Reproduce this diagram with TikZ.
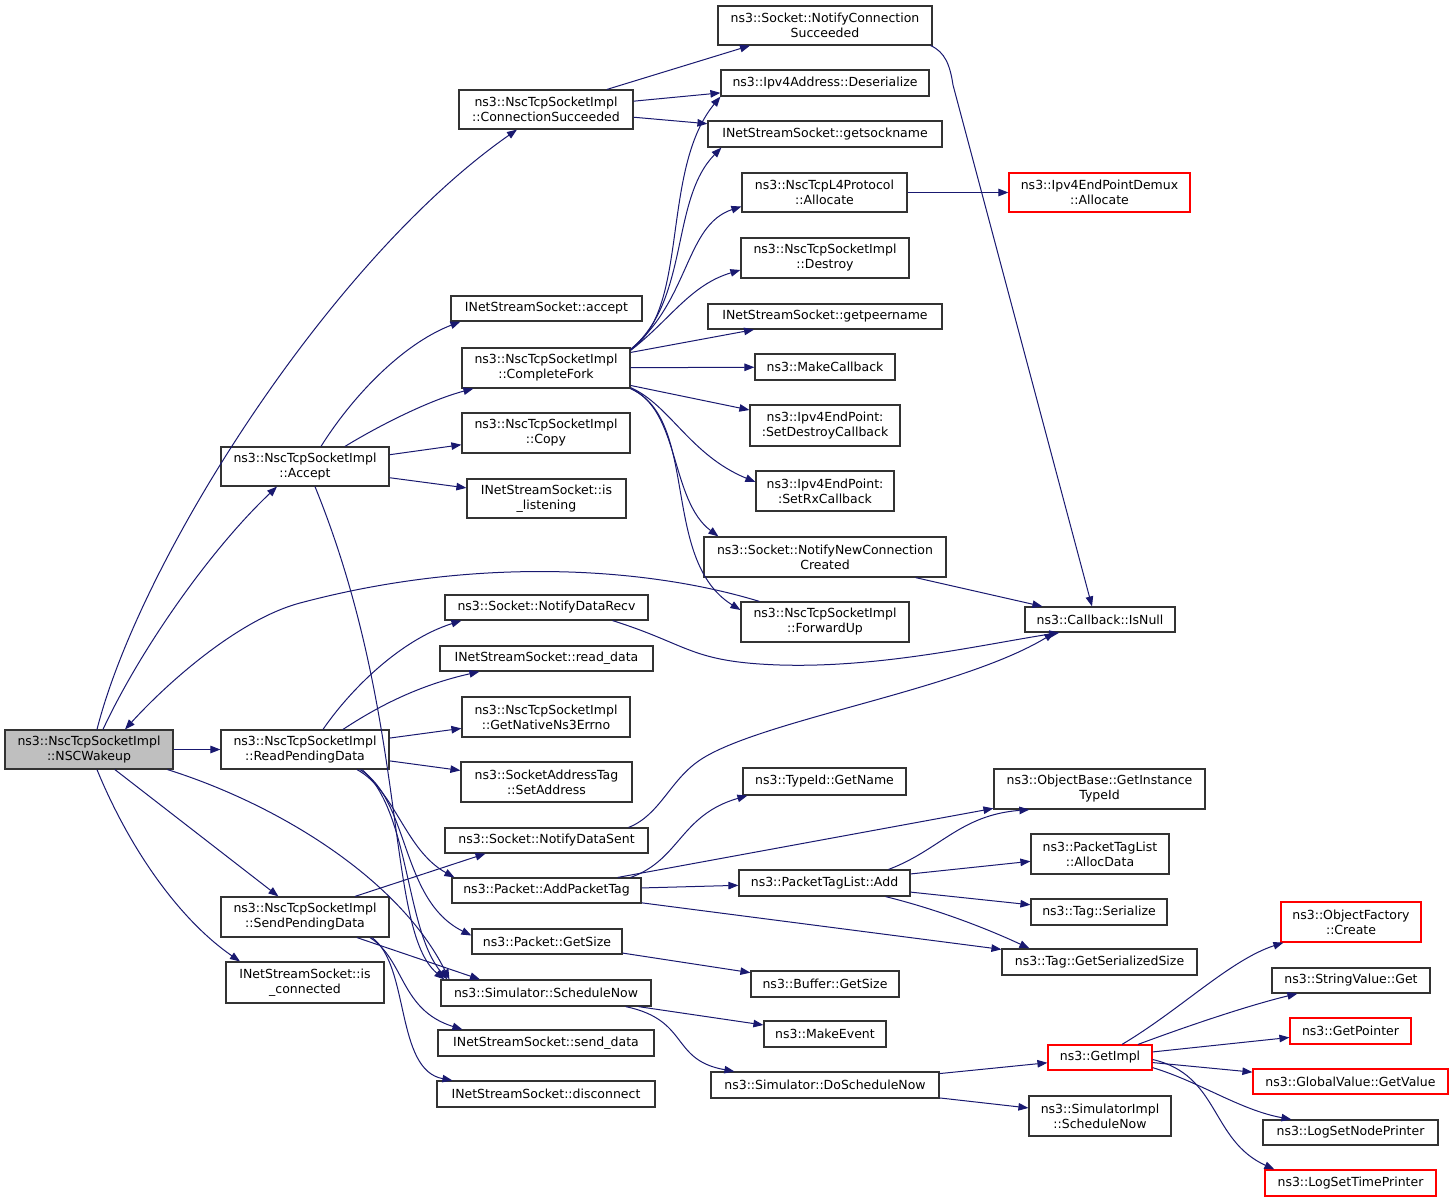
\documentclass[tikz,border=0pt]{standalone}
\usepackage{fontspec}
\setmainfont{DejaVu Sans}
\usetikzlibrary{arrows.meta,calc}
\definecolor{edgeblue}{HTML}{191970}
\definecolor{rootgray}{HTML}{BFBFBF}
\definecolor{framegray}{HTML}{333333}
\begin{document}
\begin{tikzpicture}[x=1pt,y=-1pt,
  nd/.style={draw=framegray,line width=1.2pt,fill=white,rectangle,inner sep=0pt,align=center,
    font=\fontsize{12.5}{15}\selectfont},
  rootnd/.style={nd,fill=rootgray},
  rednd/.style={nd,draw=red},
  edg/.style={draw=edgeblue,line width=1pt,-{Triangle[length=10pt,width=7.5pt]}}]
\fill[white] (0,0) rectangle (1453,1203);
\useasboundingbox (0,0) rectangle (1453,1203);
% column 0
\node[rootnd,minimum width=168pt,minimum height=39pt] (wake) at (89,749.5) {ns3::NscTcpSocketImpl\\::NSCWakeup};
% column 1
\node[nd,minimum width=174pt,minimum height=39pt] (cs) at (546,109.5) {ns3::NscTcpSocketImpl\\::ConnectionSucceeded};
\node[nd,minimum width=168pt,minimum height=39pt] (acc) at (305,466.5) {ns3::NscTcpSocketImpl\\::Accept};
\node[nd,minimum width=168pt,minimum height=39pt] (rpd) at (305,749.5) {ns3::NscTcpSocketImpl\\::ReadPendingData};
\node[nd,minimum width=168pt,minimum height=40pt] (spd) at (305,917) {ns3::NscTcpSocketImpl\\::SendPendingData};
\node[nd,minimum width=158pt,minimum height=41pt] (isc) at (305,982.5) {INetStreamSocket::is\\\_connected};
% column 2
\node[nd,minimum width=191pt,minimum height=25pt] (iacc) at (546.5,308.5) {INetStreamSocket::accept};
\node[nd,minimum width=168pt,minimum height=40pt] (cf) at (546,368) {ns3::NscTcpSocketImpl\\::CompleteFork};
\node[nd,minimum width=168pt,minimum height=40pt] (copy) at (546,433) {ns3::NscTcpSocketImpl\\::Copy};
\node[nd,minimum width=159pt,minimum height=39pt] (isl) at (546.5,498.5) {INetStreamSocket::is\\\_listening};
\node[nd,minimum width=203pt,minimum height=25pt] (ndr) at (546.5,607.5) {ns3::Socket::NotifyDataRecv};
\node[nd,minimum width=213pt,minimum height=25pt] (rdd) at (546.5,658.5) {INetStreamSocket::read\_data};
\node[nd,minimum width=168pt,minimum height=40pt] (gne) at (546,717) {ns3::NscTcpSocketImpl\\::GetNativeNs3Errno};
\node[nd,minimum width=171pt,minimum height=40pt] (sadd) at (546.5,782) {ns3::SocketAddressTag\\::SetAddress};
\node[nd,minimum width=203pt,minimum height=25pt] (nds) at (546.5,840.5) {ns3::Socket::NotifyDataSent};
\node[nd,minimum width=189pt,minimum height=25pt] (apt) at (546.5,890.5) {ns3::Packet::AddPacketTag};
\node[nd,minimum width=150pt,minimum height=25pt] (pgs) at (547,941.5) {ns3::Packet::GetSize};
\node[nd,minimum width=210pt,minimum height=26pt] (sn) at (546,993) {ns3::Simulator::ScheduleNow};
\node[nd,minimum width=216pt,minimum height=26pt] (sdd) at (546,1043) {INetStreamSocket::send\_data};
\node[nd,minimum width=218pt,minimum height=26pt] (disc) at (546,1094) {INetStreamSocket::disconnect};
% column 3
\node[nd,minimum width=214pt,minimum height=39pt] (ncs) at (825,25.5) {ns3::Socket::NotifyConnection\\Succeeded};
\node[nd,minimum width=208pt,minimum height=26pt] (deser) at (825,83) {ns3::Ipv4Address::Deserialize};
\node[nd,minimum width=234pt,minimum height=26pt] (gsn) at (825,134) {INetStreamSocket::getsockname};
\node[nd,minimum width=165pt,minimum height=39pt] (l4a) at (824.5,192.5) {ns3::NscTcpL4Protocol\\::Allocate};
\node[nd,minimum width=168pt,minimum height=40pt] (destr) at (825,258) {ns3::NscTcpSocketImpl\\::Destroy};
\node[nd,minimum width=234pt,minimum height=25pt] (gpn) at (825,316.5) {INetStreamSocket::getpeername};
\node[nd,minimum width=140pt,minimum height=26pt] (mkcb) at (825,367) {ns3::MakeCallback};
\node[nd,minimum width=150pt,minimum height=41pt] (sdcb) at (825,425.5) {ns3::Ipv4EndPoint:\\:SetDestroyCallback};
\node[nd,minimum width=138pt,minimum height=40pt] (srcb) at (825,491) {ns3::Ipv4EndPoint:\\:SetRxCallback};
\node[nd,minimum width=242pt,minimum height=40pt] (nncc) at (825,557) {ns3::Socket::NotifyNewConnection\\Created};
\node[nd,minimum width=168pt,minimum height=40pt] (fwd) at (825,622) {ns3::NscTcpSocketImpl\\::ForwardUp};
\node[nd,minimum width=163pt,minimum height=27pt] (tgn) at (824.5,781.5) {ns3::TypeId::GetName};
\node[nd,minimum width=171pt,minimum height=26pt] (ptla) at (824.5,883) {ns3::PacketTagList::Add};
\node[nd,minimum width=148pt,minimum height=26pt] (bgs) at (825,984) {ns3::Buffer::GetSize};
\node[nd,minimum width=122pt,minimum height=26pt] (mke) at (825,1034) {ns3::MakeEvent};
\node[nd,minimum width=228pt,minimum height=26pt] (dsn) at (825,1085) {ns3::Simulator::DoScheduleNow};
% column 4
\node[rednd,minimum width=181pt,minimum height=39pt] (demux) at (1099.5,192.5) {ns3::Ipv4EndPointDemux\\::Allocate};
\node[nd,minimum width=150pt,minimum height=25pt] (isnull) at (1100,619.5) {ns3::Callback::IsNull};
\node[nd,minimum width=211pt,minimum height=40pt] (gitid) at (1099.5,789) {ns3::ObjectBase::GetInstance\\TypeId};
\node[nd,minimum width=138pt,minimum height=40pt] (alloc) at (1100,854) {ns3::PacketTagList\\::AllocData};
\node[nd,minimum width=136pt,minimum height=26pt] (tser) at (1099,912) {ns3::Tag::Serialize};
\node[nd,minimum width=195pt,minimum height=26pt] (tgss) at (1099.5,962) {ns3::Tag::GetSerializedSize};
\node[rednd,minimum width=104pt,minimum height=25pt] (gimpl) at (1100,1057.5) {ns3::GetImpl};
\node[nd,minimum width=142pt,minimum height=40pt] (simpl) at (1100,1116) {ns3::SimulatorImpl\\::ScheduleNow};
% column 5
\node[rednd,minimum width=140pt,minimum height=40pt] (ofc) at (1351,922) {ns3::ObjectFactory\\::Create};
\node[nd,minimum width=158pt,minimum height=25pt] (svg) at (1351,980.5) {ns3::StringValue::Get};
\node[rednd,minimum width=121pt,minimum height=26pt] (gptr) at (1350.5,1031) {ns3::GetPointer};
\node[rednd,minimum width=195pt,minimum height=25pt] (gvv) at (1350.5,1081.5) {ns3::GlobalValue::GetValue};
\node[nd,minimum width=175pt,minimum height=25pt] (lsnp) at (1350.5,1132.5) {ns3::LogSetNodePrinter};
\node[rednd,minimum width=171pt,minimum height=26pt] (lstp) at (1350.5,1183) {ns3::LogSetTimePrinter};
% edges from NSCWakeup
\draw[edg] ($(wake.north)+(8,0)$) .. controls (140,560) and (330,260) .. ($(cs.south)+(-29,0)$);
\draw[edg] ($(wake.north)+(14,0)$) .. controls (140,650) and (210,550) .. ($(acc.south)+(-28,0)$);
\draw[edg] (wake) -- (rpd);
\draw[edg] (wake) -- (spd);
\draw[edg] ($(wake.south)+(8,0)$) .. controls (130,850) and (180,920) .. ($(isc.north)+(-65,0)$);
\draw[edg] ($(wake.south east)+(-6,0)$) .. controls (280,805) and (400,880) .. ($(sn.north west)+(9,0)$);
\draw[edg] ($(fwd.north west)+(19,0)$) .. controls (650,568) and (480,555) .. (300,603) .. controls (240,619) and (170,680) .. ($(wake.north)+(36,0)$);
% ConnectionSucceeded
\draw[edg] ($(cs.north)+(61,0)$) -- ($(ncs.south)+(-75,0)$);
\draw[edg] (cs) -- (deser);
\draw[edg] (cs) -- (gsn);
\draw[edg] ($(ncs.south east)+(-2,0)$) .. controls (945,52) and (950,65) .. (953,85) -- ($(isnull.north)+(-8,0)$);
% Accept
\draw[edg] ($(acc.north)+(16,0)$) .. controls (350,400) and (400,345) .. ($(iacc.south west)+(10,0)$);
\draw[edg] ($(acc.north)+(40,0)$) .. controls (380,425) and (430,400) .. ($(cf.south west)+(12,0)$);
\draw[edg] (acc) -- (copy);
\draw[edg] (acc) -- (isl);
\draw[edg] ($(acc.south)+(10,0)$) .. controls (410,720) and (385,930) .. ($(sn.north west)+(4,0)$);
% CompleteFork
\draw[edg] ($(cf.north east)+(0,2)$) .. controls (690,310) and (660,170) .. (deser.south west);
\draw[edg] ($(cf.north east)+(0,2)$) .. controls (690,300) and (670,200) .. ($(gsn.south west)+(14,0)$);
\draw[edg] ($(cf.north east)+(0,2)$) .. controls (690,300) and (685,225) .. ($(l4a.west)+(0,14)$);
\draw[edg] ($(cf.north east)+(0,3)$) .. controls (670,320) and (690,285) .. ($(destr.west)+(0,12)$);
\draw[edg] (cf) -- (gpn);
\draw[edg] (cf) -- (mkcb);
\draw[edg] (cf) -- (sdcb);
\draw[edg] ($(cf.south east)+(0,-1)$) .. controls (670,405) and (690,455) .. ($(srcb.west)+(0,-9)$);
\draw[edg] (cf.south east) .. controls (680,410) and (670,500) .. ($(nncc.north west)+(15,0)$);
\draw[edg] (cf.south east) .. controls (700,420) and (660,560) .. ($(fwd.west)+(0,-12)$);
\draw[edg] (l4a) -- (demux);
\draw[edg] (nncc) -- (isnull);
\draw[edg] ($(ndr.south east)+(-36,0)$) .. controls (690,645) and (690,662) .. (780,665) .. controls (880,668) and (980,645) .. ($(isnull.south west)+(35,0)$);
% ReadPendingData
\draw[edg] ($(rpd.north)+(18,0)$) .. controls (350,690) and (400,640) .. ($(ndr.south west)+(17,0)$);
\draw[edg] ($(rpd.north)+(38,0)$) .. controls (380,705) and (420,685) .. ($(rdd.south west)+(40,0)$);
\draw[edg] (rpd) -- (gne);
\draw[edg] (rpd) -- (sadd);
\draw[edg] ($(rpd.south)+(52,0)$) .. controls (395,790) and (405,850) .. ($(apt.north west)+(3,0)$);
\draw[edg] ($(rpd.south)+(55,0)$) .. controls (410,800) and (400,900) .. ($(pgs.west)+(0,-6)$);
\draw[edg] ($(rpd.south)+(57,0)$) .. controls (410,810) and (405,930) .. ($(sn.north west)+(7,0)$);
\draw[edg] ($(nds.north east)+(-20,0)$) .. controls (660,815) and (670,780) .. (700,760) .. controls (760,720) and (960,690) .. ($(isnull.south west)+(30,0)$);
% SendPendingData
\draw[edg] ($(spd.north)+(50,0)$) -- ($(nds.south)+(-61,0)$);
\draw[edg] ($(spd.south)+(52,0)$) -- ($(sn.north)+(-66,0)$);
\draw[edg] ($(spd.south)+(65,0)$) .. controls (405,960) and (400,1010) .. ($(sdd.north west)+(25,0)$);
\draw[edg] ($(spd.south)+(67,0)$) .. controls (410,965) and (395,1070) .. ($(disc.north west)+(16,0)$);
% AddPacketTag
\draw[edg] ($(apt.north east)+(-11,0)$) .. controls (680,860) and (680,815) .. ($(tgn.south west)+(5,0)$);
\draw[edg] (apt) -- (gitid);
\draw[edg] (apt) -- (ptla);
\draw[edg] (apt) -- (tgss);
\draw[edg] ($(ptla.north east)+(-22,0)$) .. controls (940,850) and (960,815) .. ($(gitid.south west)+(36,0)$);
\draw[edg] (ptla) -- (alloc);
\draw[edg] (ptla) -- (tser);
\draw[edg] ($(ptla.south east)+(-25,0)$) .. controls (940,910) and (990,930) .. ($(tgss.north west)+(28,0)$);
\draw[edg] (pgs) -- (bgs);
% ScheduleNow
\draw[edg] (sn) -- (mke);
\draw[edg] ($(sn.south east)+(-26,0)$) .. controls (690,1020) and (670,1060) .. ($(dsn.north west)+(24,0)$);
\draw[edg] (dsn) -- (gimpl);
\draw[edg] (dsn) -- (simpl);
% GetImpl
\draw[edg] ($(gimpl.north)+(22,0)$) .. controls (1180,1010) and (1230,960) .. ($(ofc.south west)+(3,0)$);
\draw[edg] ($(gimpl.north)+(38,0)$) .. controls (1190,1025) and (1250,1005) .. ($(svg.south west)+(26,0)$);
\draw[edg] (gimpl) -- (gptr);
\draw[edg] (gimpl) -- (gvv);
\draw[edg] ($(gimpl.south east)+(0,-3)$) .. controls (1200,1082) and (1240,1110) .. ($(lsnp.north west)+(29,0)$);
\draw[edg] ($(gimpl.east)+(0,2)$) .. controls (1220,1075) and (1210,1140) .. ($(lstp.north west)+(10,0)$);
\end{tikzpicture}
\end{document}
